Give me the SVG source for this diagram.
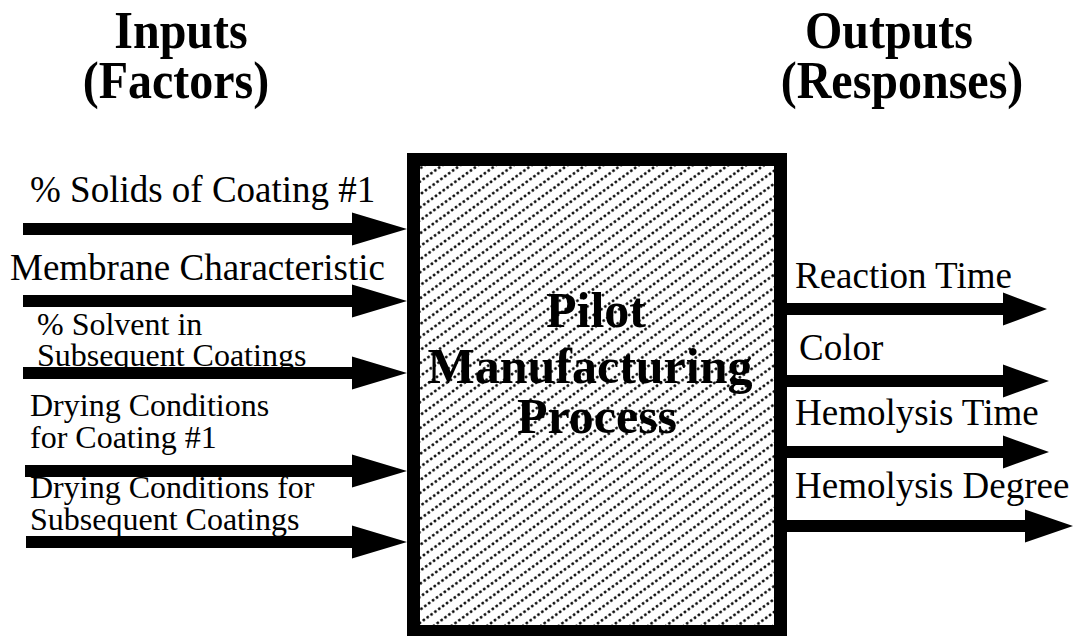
<svg xmlns="http://www.w3.org/2000/svg" width="1076" height="636" viewBox="0 0 1076 636">
<style>
.hdr{font-family:"Liberation Serif","Times New Roman",serif;font-weight:bold;font-size:48px;fill:#000;text-anchor:middle}
.lbl{font-family:"Liberation Serif","Times New Roman",serif;font-size:37px;fill:#000}
.sm{font-size:32px}
.ctr{font-family:"Liberation Serif","Times New Roman",serif;font-weight:bold;font-size:50px;fill:#000;text-anchor:middle}
.arr{fill:#000;stroke:none}
</style>
<defs>
<pattern id="dots" width="4.8" height="10.5" patternUnits="userSpaceOnUse" patternTransform="rotate(-36)">
<circle cx="2.4" cy="5.25" r="1.4" fill="#000"/>
</pattern>
</defs>
<rect width="1076" height="636" fill="#fff"/>
<g id="headers">
<g transform="scale(1,1.08)">
<text class="hdr" x="181" y="44.4">Inputs</text>
<text class="hdr" x="176" y="90.7">(Factors)</text>
<text class="hdr" x="889" y="44.4">Outputs</text>
<text class="hdr" x="902" y="90.7">(Responses)</text>
</g>
</g>
<g id="process">
<rect x="413.5" y="159.5" width="367" height="472" fill="url(#dots)" stroke="#000" stroke-width="13"/>
<text class="ctr" x="596" y="327">Pilot</text>
<text class="ctr" x="590" y="383">Manufacturing</text>
<text class="ctr" x="597" y="433">Process</text>
</g>
<g id="input-labels">
<text class="lbl" x="30" y="202">% Solids of Coating #1</text>
<text class="lbl" x="10" y="280">Membrane Characteristic</text>
<text class="lbl sm" x="37" y="335">% Solvent in</text>
<text class="lbl sm" x="37" y="366">Subsequent Coatings</text>
<text class="lbl sm" x="30" y="416">Drying Conditions</text>
<text class="lbl sm" x="30" y="448">for Coating #1</text>
<text class="lbl sm" x="30" y="498">Drying Conditions for</text>
<text class="lbl sm" x="30" y="530">Subsequent Coatings</text>
</g>
<g id="output-labels">
<text class="lbl" x="795" y="288">Reaction Time</text>
<text class="lbl" x="799" y="360">Color</text>
<text class="lbl" x="795" y="425">Hemolysis Time</text>
<text class="lbl" x="795" y="498">Hemolysis Degree</text>
</g>
<g id="connectors">
<path class="arr" d="M23,223 H352 V212.5 L407,229 L352,245.5 V235 H23 Z"/>
<path class="arr" d="M23,295 H352 V284.5 L407,301 L352,317.5 V307 H23 Z"/>
<path class="arr" d="M23,367 H352 V356.5 L407,373 L352,389.5 V379 H23 Z"/>
<path class="arr" d="M25,465 H352 V454.5 L407,471 L352,487.5 V477 H25 Z"/>
<path class="arr" d="M26,536 H352 V525.5 L407,542 L352,558.5 V548 H26 Z"/>
<path class="arr" d="M787,303 H1003 V292.5 L1047,309 L1003,325.5 V315 H787 Z"/>
<path class="arr" d="M787,375 H1003 V364.5 L1049,381 L1003,397.5 V387 H787 Z"/>
<path class="arr" d="M787,446 H1003 V435.5 L1049,452 L1003,468.5 V458 H787 Z"/>
<path class="arr" d="M787,520 H1025 V509.5 L1073,526 L1025,542.5 V532 H787 Z"/>
</g>
</svg>
